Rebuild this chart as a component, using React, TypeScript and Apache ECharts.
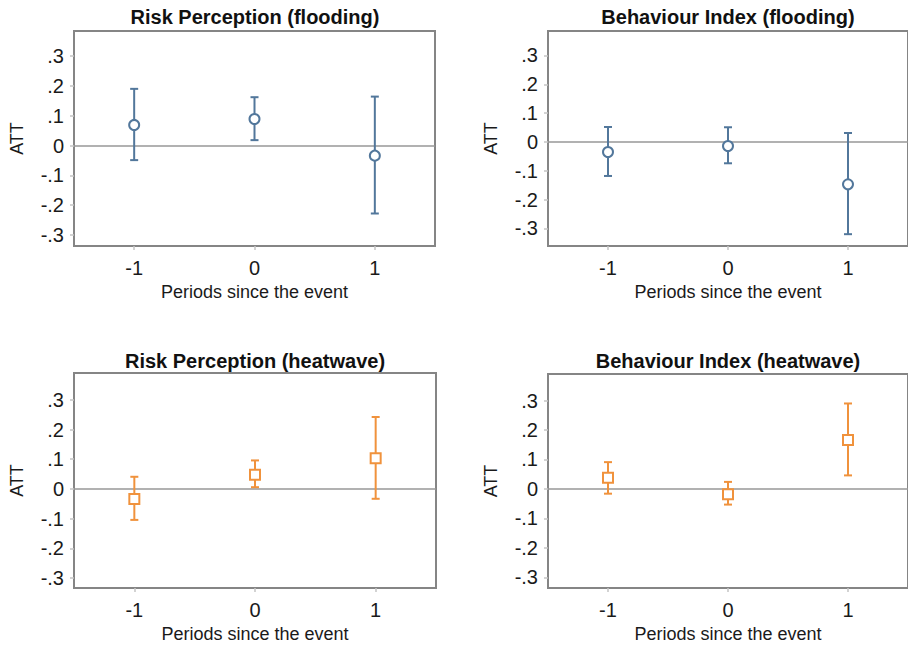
import React, { useEffect, useRef } from "react";
import * as echarts from "echarts";

const periods = [-1, 0, 1];
const yTicks = [-0.3, -0.2, -0.1, 0, 0.1, 0.2, 0.3];
const xTicks = [-1, 0, 1];

const titles = [
  "Risk Perception (flooding)",
  "Behaviour Index (flooding)",
  "Risk Perception (heatwave)",
  "Behaviour Index (heatwave)",
];

const rpFloodEst = [0.069, 0.089, -0.034];
const rpFloodLo = [-0.049, 0.018, -0.228];
const rpFloodHi = [0.19, 0.162, 0.164];

const biFloodEst = [-0.035, -0.014, -0.147];
const biFloodLo = [-0.118, -0.074, -0.32];
const biFloodHi = [0.052, 0.051, 0.031];

const rpHeatEst = [-0.034, 0.048, 0.103];
const rpHeatLo = [-0.104, 0.006, -0.033];
const rpHeatHi = [0.041, 0.096, 0.242];

const biHeatEst = [0.038, -0.018, 0.166];
const biHeatLo = [-0.016, -0.053, 0.046];
const biHeatHi = [0.091, 0.024, 0.29];

const FONT = "Arial, 'Liberation Sans', Helvetica, sans-serif";
const BLUE = "#52779b";
const ORANGE = "#f0923c";

export default function App() {
  const ref = useRef<HTMLDivElement>(null);

  useEffect(() => {
    if (!ref.current) return;
    const chart = echarts.init(ref.current, null, { renderer: "svg" });

    const panels = [
      { est: rpFloodEst, lo: rpFloodLo, hi: rpFloodHi, color: BLUE, symbol: "circle", grid: { left: 74, top: 31, width: 361, height: 215 }, ymin: -0.337, ymax: 0.384, tx: 255, ty: 17 },
      { est: biFloodEst, lo: biFloodLo, hi: biFloodHi, color: BLUE, symbol: "circle", grid: { left: 548, top: 31, width: 362, height: 215 }, ymin: -0.361, ymax: 0.385, tx: 728, ty: 17 },
      { est: rpHeatEst, lo: rpHeatLo, hi: rpHeatHi, color: ORANGE, symbol: "rect", grid: { left: 74, top: 373, width: 362, height: 215 }, ymin: -0.333, ymax: 0.39, tx: 255, ty: 361 },
      { est: biHeatEst, lo: biHeatLo, hi: biHeatHi, color: ORANGE, symbol: "rect", grid: { left: 548, top: 374, width: 362, height: 214 }, ymin: -0.336, ymax: 0.39, tx: 728, ty: 361 },
    ];

    const fmtY = (v: number) => {
      if (Math.abs(v) < 1e-9) return "0";
      const d = Math.round(Math.abs(v) * 10);
      return (v < 0 ? "-" : "") + "." + d;
    };

    const grid: any[] = [];
    const xAxis: any[] = [];
    const yAxis: any[] = [];
    const series: any[] = [];
    const graphic: any[] = [];

    panels.forEach((p, i) => {
      grid.push({
        ...p.grid,
        show: true,
        borderColor: "#858585",
        borderWidth: 2,
        backgroundColor: "#ffffff",
      });
      xAxis.push({
        type: "value",
        gridIndex: i,
        position: "bottom",
        min: -1.5,
        max: 1.5,
        name: "Periods since the event",
        nameLocation: "middle",
        nameGap: 37,
        nameTextStyle: { fontFamily: FONT, fontSize: 18, color: "#1a1a1a" },
        axisLine: { show: false, onZero: false },
        splitLine: { show: false },
        axisTick: { show: true, customValues: xTicks, length: 4, lineStyle: { color: "#c4c4c4", width: 1.5 } },
        axisLabel: {
          customValues: xTicks,
          margin: 12,
          fontFamily: FONT,
          fontSize: 20,
          color: "#1a1a1a",
          formatter: (v: number) => String(v),
        },
      });
      yAxis.push({
        type: "value",
        gridIndex: i,
        position: "left",
        min: p.ymin,
        max: p.ymax,
        name: "ATT",
        nameLocation: "middle",
        nameGap: 48,
        nameTextStyle: { fontFamily: FONT, fontSize: 18, color: "#1a1a1a" },
        axisLine: { show: false, onZero: false },
        splitLine: { show: false },
        axisTick: { show: true, customValues: yTicks, length: 4, lineStyle: { color: "#c4c4c4", width: 1.5 } },
        axisLabel: {
          customValues: yTicks,
          margin: 10,
          fontFamily: FONT,
          fontSize: 20,
          color: "#1a1a1a",
          formatter: fmtY,
        },
      });
      const barData = periods.map((x, k) => [x, p.lo[k], p.hi[k]]);
      series.push({
        type: "custom",
        xAxisIndex: i,
        yAxisIndex: i,
        z: 3,
        data: barData,
        encode: { x: 0, y: [1, 2] },
        renderItem: (params: any, api: any) => {
          const x = api.value(0);
          const lo = api.coord([x, api.value(1)]);
          const hi = api.coord([x, api.value(2)]);
          const cw = 4;
          const st = { stroke: p.color, lineWidth: 2 };
          return {
            type: "group",
            children: [
              { type: "line", shape: { x1: lo[0], y1: lo[1], x2: hi[0], y2: hi[1] }, style: st },
              { type: "line", shape: { x1: lo[0] - cw, y1: lo[1], x2: lo[0] + cw, y2: lo[1] }, style: st },
              { type: "line", shape: { x1: hi[0] - cw, y1: hi[1], x2: hi[0] + cw, y2: hi[1] }, style: st },
            ],
          };
        },
      });
      series.push({
        type: "scatter",
        xAxisIndex: i,
        yAxisIndex: i,
        z: 5,
        symbol: p.symbol,
        symbolSize: 10,
        itemStyle: { color: "#ffffff", borderColor: p.color, borderWidth: 2, opacity: 1 },
        data: periods.map((x, k) => [x, p.est[k]]),
        markLine: {
          silent: true,
          symbol: "none",
          label: { show: false },
          lineStyle: { color: "#979797", width: 1.5, type: "solid" },
          data: [{ yAxis: 0 }],
          z: 2,
        },
      });
      graphic.push({
        type: "text",
        x: p.tx,
        y: p.ty,
        style: {
          text: titles[i],
          align: "center",
          verticalAlign: "middle",
          fontFamily: FONT,
          fontSize: 20,
          fontWeight: "bold",
          fill: "#111111",
        },
      });
    });

    chart.setOption({
      animation: false,
      backgroundColor: "#ffffff",
      grid,
      xAxis,
      yAxis,
      series,
      graphic,
    });

    return () => chart.dispose();
  }, []);

  return (
    <div
      ref={ref}
      style={{ position: "absolute", left: 0, top: 0, width: 908, height: 649 }}
    />
  );
}
